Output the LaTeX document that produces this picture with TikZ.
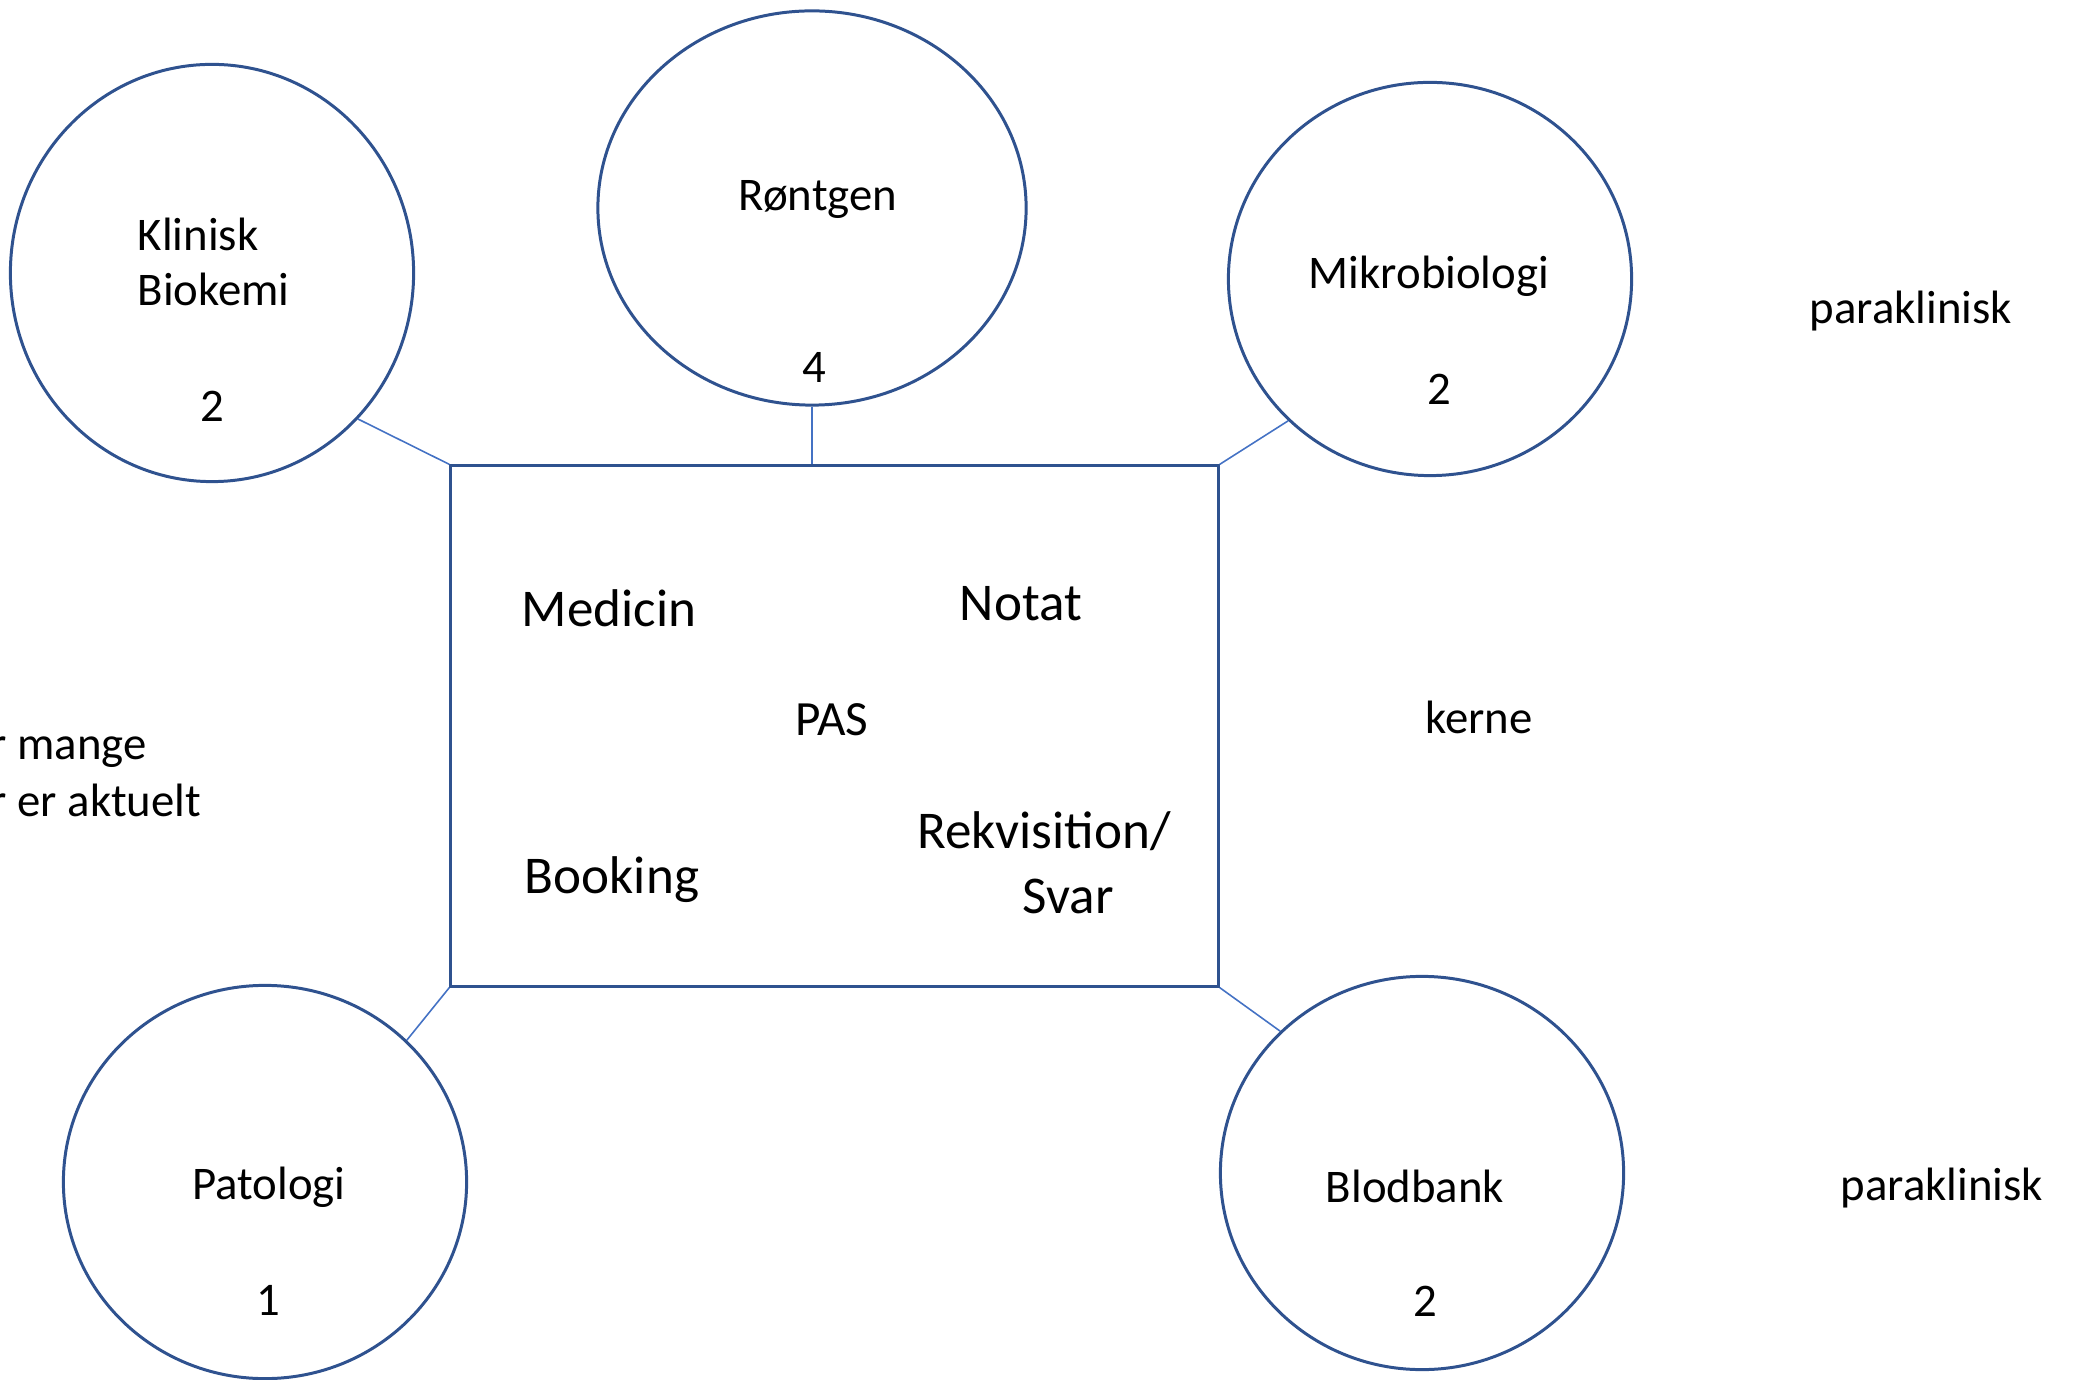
\documentclass[tikz,border=0pt]{standalone}
\usepackage{fontspec}
\setmainfont{Carlito}
\usetikzlibrary{shapes.geometric}
\definecolor{ringblue}{HTML}{2F528F}
\definecolor{linkblue}{HTML}{4472C4}
\tikzset{
  ring/.style={ellipse,draw=ringblue,line width=0.85pt,inner sep=0pt},
  link/.style={draw=linkblue,line width=0.45pt},
  txt/.style={anchor=base,inner sep=0pt,font=\fontsize{13.3}{16}\selectfont},
  bigtxt/.style={anchor=base,inner sep=0pt,font=\fontsize{15.1}{18}\selectfont}
}
\begin{document}
\begin{tikzpicture}[x=0.01cm,y=-0.01cm]
        \useasboundingbox (0,0) rectangle (2080,1380);
        %圆
        \node[ring,minimum width=4.03cm,minimum height=4.17cm] (kb) at (212,273) {};
        \node[ring,minimum width=4.28cm,minimum height=3.94cm] (rt) at (812,208) {};
        \node[ring,minimum width=4.03cm,minimum height=3.93cm] (mb) at (1430,279) {};
        \node[ring,minimum width=4.03cm,minimum height=3.93cm] (pat) at (265,1182) {};
        \node[ring,minimum width=4.03cm,minimum height=3.93cm] (bb) at (1422,1173) {};
        %方框
        \node[draw=ringblue,line width=0.85pt,minimum width=7.67cm,minimum height=5.2cm] (pas) at (834.5,726) {};
        %连线
        \draw[link] (kb.-45) -- (pas.north west);
        \draw[link] (rt.south) -- (rt.south |- pas.north);
        \draw[link] (mb.-135) -- (pas.north east);
        \draw[link] (pat.45) -- (pas.south west);
        \draw[link] (bb.135) -- (pas.south east);
        %圆内文字
        \node[txt,anchor=base west] (kbname1) at (137,251) {Klinisk};
        \node[txt,anchor=base west] (kbname2) at (137,306) {Biokemi};
        \node[txt] (kbnum) at (212,422) {2};
        \node[txt] (rtname) at (818,211) {Røntgen};
        \node[txt] (rtnum) at (814,383) {4};
        \node[txt] (mbname) at (1429,289) {Mikrobiologi};
        \node[txt] (mbnum) at (1439,405) {2};
        \node[txt] (patname) at (269,1199) {Patologi};
        \node[txt] (patnum) at (268,1315) {1};
        \node[txt] (bbname) at (1415,1202) {Blodbank};
        \node[txt] (bbnum) at (1425,1316) {2};
        %方框内文字
        \node[bigtxt] (med) at (609,627) {Medicin};
        \node[bigtxt] (notat) at (1021,621) {Notat};
        \node[txt,font=\fontsize{14}{17}\selectfont] (pastxt) at (832,736) {PAS};
        \node[bigtxt] (book) at (612,893) {Booking};
        \node[bigtxt] (rekv) at (1044,849) {Rekvisition/};
        \node[bigtxt] (svar) at (1068,913) {Svar};
        %旁注
        \node[txt] (para1) at (1911,324) {paraklinisk};
        \node[txt] (kerne) at (1479,734) {kerne};
        \node[txt] (para2) at (1942,1200) {paraklinisk};
        \node[txt,anchor=base west] (rest1) at (-10,760) {r mange};
        \node[txt,anchor=base west] (rest2) at (-10,817) {r er aktuelt};
\end{tikzpicture}
\end{document}
